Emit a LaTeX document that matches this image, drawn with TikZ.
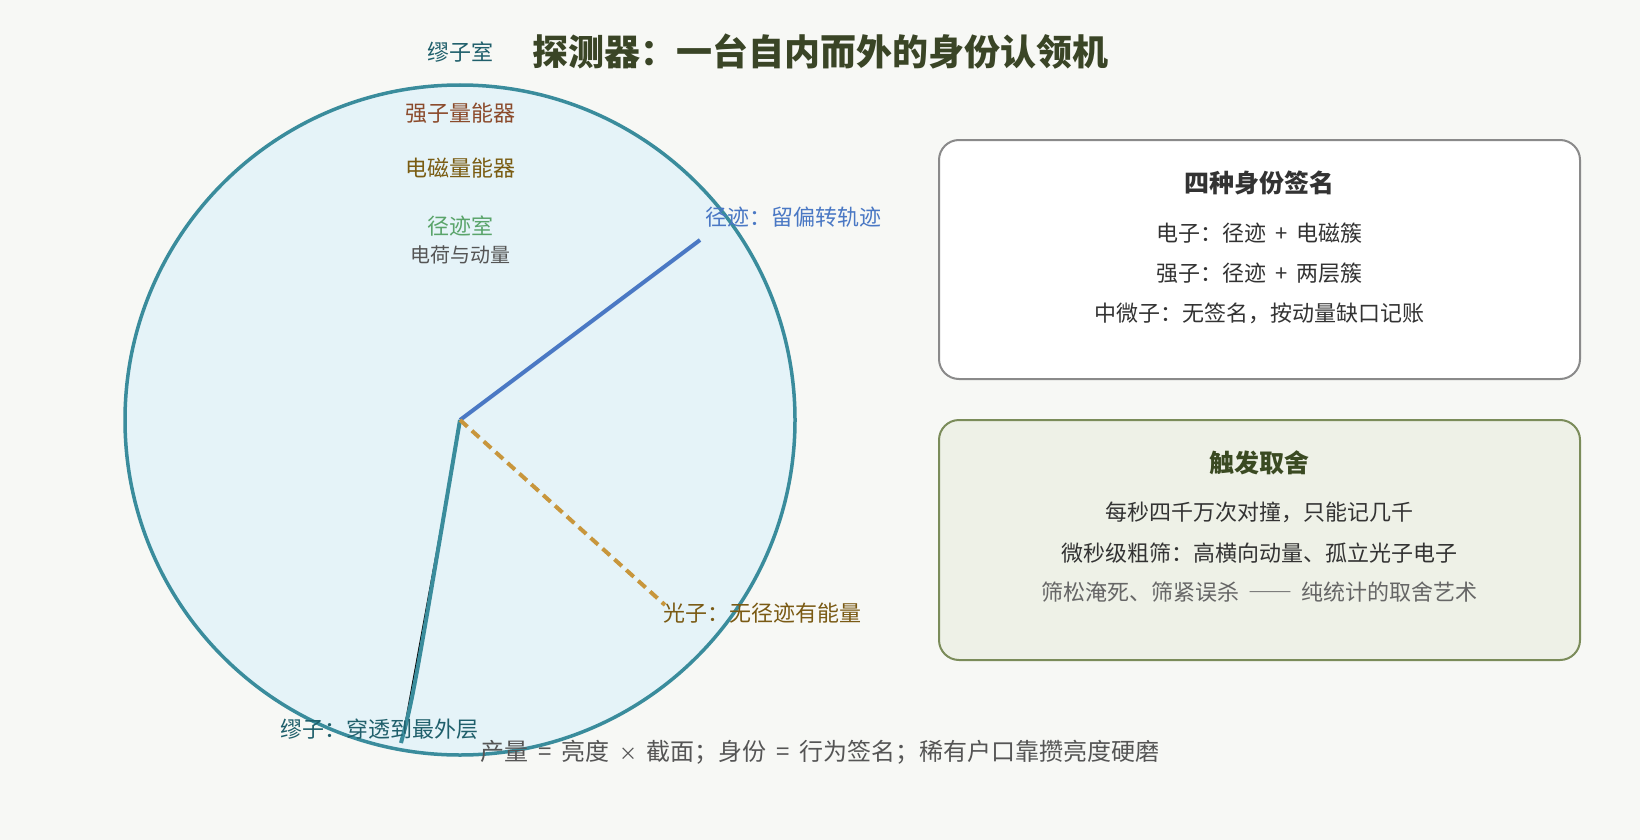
\documentclass[tikz,border=0pt]{standalone}
\usepackage{fontspec}
\setmainfont{Noto Sans CJK SC}
\usepackage{tikz}

\definecolor{bgpaper}{HTML}{F7F8F5}
\definecolor{detfill}{HTML}{E5F3F8}
\definecolor{detedge}{HTML}{3A8C9C}
\definecolor{trackblue}{HTML}{4A78C4}
\definecolor{gammagold}{HTML}{C8963C}
\definecolor{gammabrown}{HTML}{7A5A14}
\definecolor{muonteal}{HTML}{1F5F6B}
\definecolor{hadronbrown}{HTML}{8B4A2B}
\definecolor{emgold}{HTML}{7A5C12}
\definecolor{trackgreen}{HTML}{5AA46A}
\definecolor{inkgray}{HTML}{555555}
\definecolor{inkdark}{HTML}{333333}
\definecolor{inklight}{HTML}{666666}
\definecolor{titleolive}{HTML}{3A4526}
\definecolor{boxgray}{HTML}{8A8A8A}
\definecolor{trigfill}{HTML}{EEF1E7}
\definecolor{trigedge}{HTML}{7B8C5A}
\definecolor{trighead}{HTML}{3A4A22}

\newcommand{\opgap}{\hspace{0.4em}}

\begin{document}
\begin{tikzpicture}[x=1pt, y=-1pt,
	chamber/.style={font=\fontsize{22}{26}\selectfont, inner sep=0pt},
	sigline/.style={font=\fontsize{22}{26}\selectfont, inner sep=0pt},
	boxhead/.style={font=\fontsize{25}{29}\selectfont\bfseries, inner sep=0pt},
	panel/.style={draw, line width=2pt, rounded corners=20pt, minimum width=641pt, minimum height=239pt},
	track/.style={line width=4pt}]
% draw background
	\fill[bgpaper] (0,0) rectangle (1640,840);
	\useasboundingbox (0,0) rectangle (1640,840);
% draw detector
	\node[circle, draw=detedge, fill=detfill, line width=3.5pt, minimum size=670pt, inner sep=0pt] (det) at (460,420) {};
% draw tracks
	\coordinate (trackEnd) at (700,240);
	\coordinate (gammaEnd) at (665,605);
	\coordinate (muonEnd) at (401,743);
	\draw[track, detedge, fill=black] (det.center) .. controls (413,698) .. (muonEnd);
	\draw[track, trackblue] (det.center) -- (trackEnd);
	\draw[track, gammagold, dash pattern=on 10pt off 6pt] (det.center) -- (gammaEnd);
% layer names
	\node[chamber, text=muonteal] (muonRoom) at (460,52) {缪子室};
	\node[chamber, text=hadronbrown] (hadCal) at (460,113) {强子量能器};
	\node[chamber, text=emgold] (emCal) at (460,168) {电磁量能器};
	\node[chamber, text=trackgreen] (trackRoom) at (460,226) {径迹室};
	\node[font=\fontsize{20}{24}\selectfont, inner sep=0pt, text=inkgray] (trackNote) at (460,255) {电荷与动量};
% track labels
	\node[chamber, text=trackblue, anchor=west] (trackLabel) at (705,217) {径迹：留偏转轨迹};
	\node[chamber, text=gammabrown, anchor=west] (gammaLabel) at (663,613) {光子：无径迹有能量};
	\node[chamber, text=muonteal, anchor=west] (muonLabel) at (280,729) {缪子：穿透到最外层};
% title
	\node[font=\fontsize{36}{40}\selectfont\bfseries, inner sep=0pt, text=titleolive] (title) at (820,52) {探测器：一台自内而外的身份认领机};
% signature box
	\node[panel, draw=boxgray, fill=white] (sigBox) at (1259.5,259.5) {};
	\node[boxhead, text=inkdark] (sigHead) at (1259.5,183) {四种身份签名};
	\node[sigline, text=inkdark] (sigE) at (1259.5,233) {电子：径迹\opgap+\opgap 电磁簇};
	\node[sigline, text=inkdark] (sigH) at (1259.5,273) {强子：径迹\opgap+\opgap 两层簇};
	\node[sigline, text=inkdark] (sigNu) at (1259.5,313) {中微子：无签名，按动量缺口记账};
% trigger box
	\node[panel, draw=trigedge, fill=trigfill, minimum height=240pt] (trigBox) at (1259.5,540) {};
	\node[boxhead, text=trighead] (trigHead) at (1259.5,463) {触发取舍};
	\node[sigline, text=inkdark] (trigRate) at (1259.5,512) {每秒四千万次对撞，只能记几千};
	\node[sigline, text=inkdark] (trigCut) at (1259.5,553) {微秒级粗筛：高横向动量、孤立光子电子};
	\node[sigline, text=inklight] (trigArt) at (1259.5,592) {筛松淹死、筛紧误杀\opgap{\addfontfeatures{RawFeature=+fwid}——}\opgap 纯统计的取舍艺术};
% summary line
	\node[font=\fontsize{24}{28}\selectfont, inner sep=0pt, text=inkgray] (summary) at (820,752) {产量\opgap=\opgap 亮度\opgap{\fontsize{18}{20}\selectfont ×}\opgap 截面；身份\opgap=\opgap 行为签名；稀有户口靠攒亮度硬磨};
\end{tikzpicture}
\end{document}
